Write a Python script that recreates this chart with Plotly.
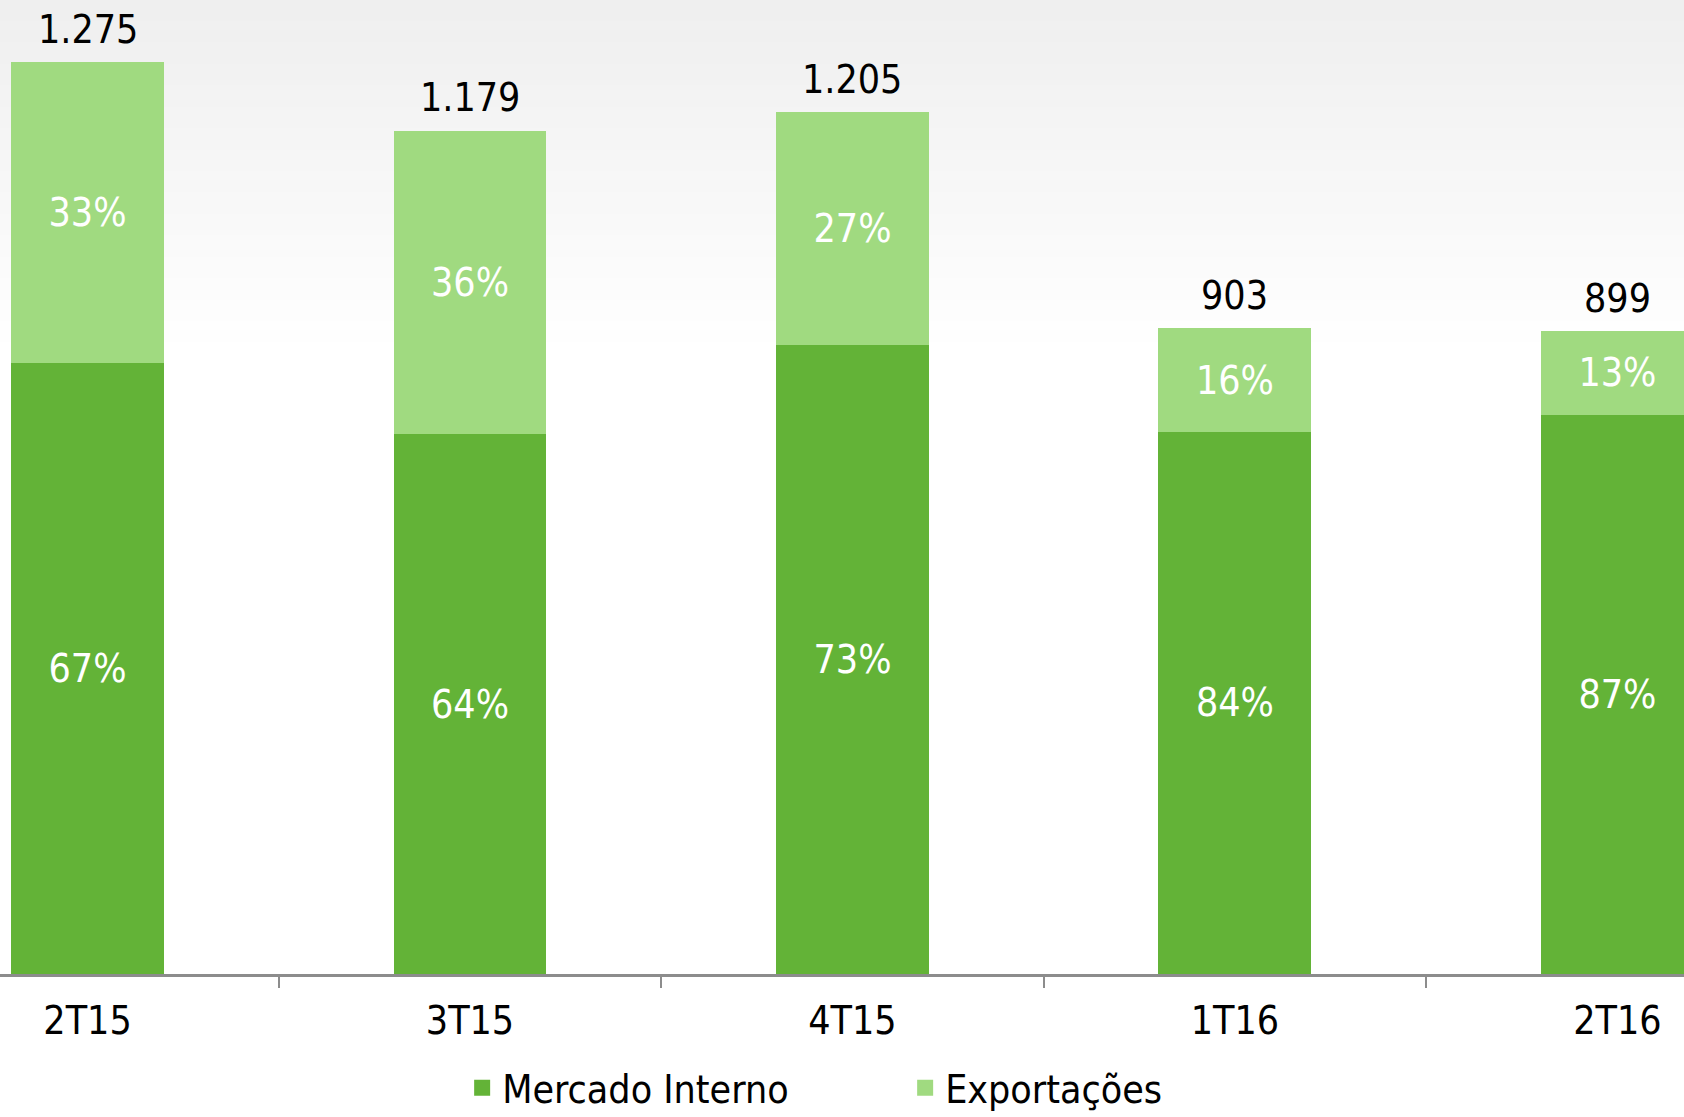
import plotly.graph_objects as go

categories = ["2T15", "3T15", "4T15", "1T16", "2T16"]
totals = [1275, 1179, 1205, 903, 899]
total_labels = ["1.275", "1.179", "1.205", "903", "899"]
mercado_interno = [854, 755, 880, 758, 782]
exportacoes = [421, 424, 325, 145, 117]
mi_pct = ["67%", "64%", "73%", "84%", "87%"]
exp_pct = ["33%", "36%", "27%", "16%", "13%"]

DARK = "#63B337"
LIGHT = "#A0DA80"
FONT = "DejaVu Sans Condensed, Liberation Sans Narrow, sans-serif"
FS = 39

fig = go.Figure()
fig.add_trace(go.Bar(
    x=categories, y=mercado_interno, name="Mercado Interno",
    marker=dict(color=DARK, line=dict(width=0)), width=0.4,
    text=mi_pct, textposition="inside", insidetextanchor="middle",
    textfont=dict(color="white", size=FS, family=FONT), showlegend=False,
    constraintext="none",
))
fig.add_trace(go.Bar(
    x=categories, y=exportacoes, name="Exportações",
    marker=dict(color=LIGHT, line=dict(width=0)), width=0.4,
    text=exp_pct, textposition="inside", insidetextanchor="middle",
    textfont=dict(color="white", size=FS, family=FONT), showlegend=False,
    constraintext="none",
))
# legend entries
fig.add_trace(go.Scatter(x=[None], y=[None], mode="markers", name="Mercado Interno",
                         marker=dict(symbol="square", size=19, color=DARK)))
fig.add_trace(go.Scatter(x=[None], y=[None], mode="markers", name="Exportações",
                         marker=dict(symbol="square", size=19, color=LIGHT)))

for c, t, lab in zip(categories, totals, total_labels):
    fig.add_annotation(x=c, y=t, text=lab, showarrow=False, yanchor="middle",
                       yshift=33, font=dict(size=FS, color="black", family=FONT))

# faint top gradient
for i in range(16):
    fig.add_shape(type="rect", xref="paper", yref="paper", x0=0, x1=1,
                  y0=1 - 0.022 * (i + 1), y1=1.2, fillcolor="black", opacity=0.0028,
                  line=dict(width=0), layer="below")

fig.update_layout(
    width=1684, height=1117,
    margin=dict(l=0, r=0, t=0, b=143, autoexpand=False),
    barmode="stack",
    paper_bgcolor="white", plot_bgcolor="rgba(0,0,0,0)",
    font=dict(family=FONT, size=FS, color="black"),
    showlegend=True,
    legend=dict(orientation="h", x=0.5375, xanchor="center", y=-0.117, yanchor="middle",
                traceorder="normal", itemsizing="trace",
                font=dict(size=FS, family=FONT, color="black"),
                entrywidth=398, itemwidth=30, bgcolor="rgba(0,0,0,0)"),
    xaxis=dict(type="category", range=[-0.2288, 4.174], showline=True, linecolor="#8c8c8c",
               linewidth=3, ticks="outside", tickson="boundaries", ticklen=11,
               tickcolor="#8c8c8c", tickwidth=2, showgrid=False, zeroline=False,
               ticklabelstandoff=10, automargin=False,
               tickfont=dict(size=FS, family=FONT, color="black"), fixedrange=True),
    yaxis=dict(range=[0, 1362], visible=False, showgrid=False, zeroline=False, fixedrange=True),
)

fig.write_html("out.html", config={"displayModeBar": False},
               post_script="document.body.style.margin='0';document.body.style.overflow='hidden';")
